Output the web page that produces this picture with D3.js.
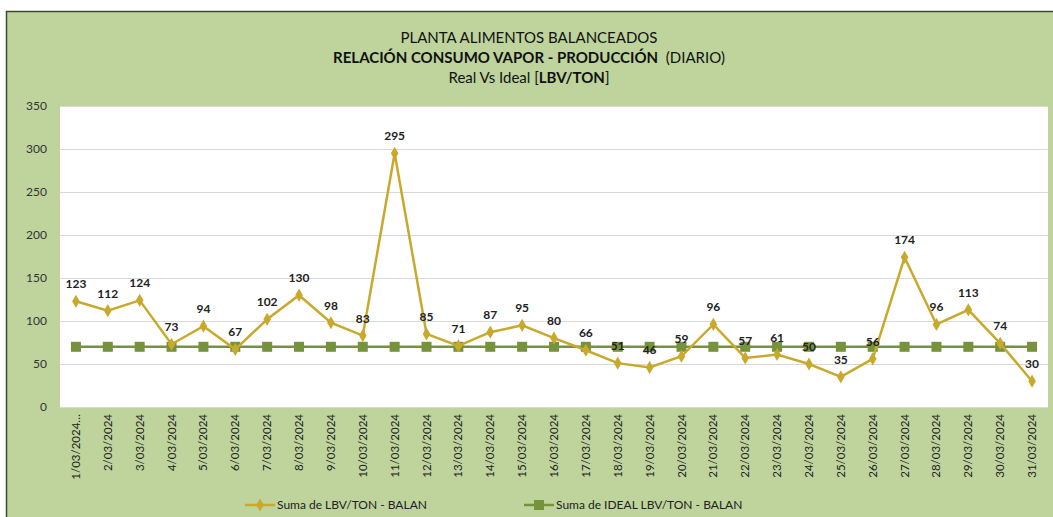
<!DOCTYPE html>
<html><head><meta charset="utf-8">
<script src="https://cdn.jsdelivr.net/npm/d3@7"></script>
<style>
html,body{margin:0;padding:0;background:#fff;}
svg{display:block;font-family:Lato,"Open Sans",sans-serif;}
</style></head>
<body>
<svg id="chart" width="1053" height="517"></svg>
<script>
const dates = ["1/03/2024","2/03/2024","3/03/2024","4/03/2024","5/03/2024","6/03/2024","7/03/2024","8/03/2024","9/03/2024","10/03/2024","11/03/2024","12/03/2024","13/03/2024","14/03/2024","15/03/2024","16/03/2024","17/03/2024","18/03/2024","19/03/2024","20/03/2024","21/03/2024","22/03/2024","23/03/2024","24/03/2024","25/03/2024","26/03/2024","27/03/2024","28/03/2024","29/03/2024","30/03/2024","31/03/2024"];
const real = [123,112,124,73,94,67,102,130,98,83,295,85,71,87,95,80,66,51,46,59,96,57,61,50,35,56,174,96,113,74,30];
const ideal = [70,70,70,70,70,70,70,70,70,70,70,70,70,70,70,70,70,70,70,70,70,70,70,70,70,70,70,70,70,70,70];
const yTicks = [0,50,100,150,200,250,300,350];
const seriesNames = ["Suma de LBV/TON - BALAN","Suma de IDEAL LBV/TON - BALAN"];

const svg = d3.select("#chart");
const W = 1053, H = 517;
const bg = "#BED49C", gold = "#C9A92C", green = "#76923C";

svg.append("rect").attr("x",6).attr("y",11).attr("width",W-6).attr("height",H-11).attr("fill",bg);
svg.append("line").attr("x1",6).attr("x2",W).attr("y1",11.5).attr("y2",11.5).attr("stroke","#3d4a2c").attr("stroke-width",1.5);
svg.append("line").attr("x1",6.5).attr("x2",6.5).attr("y1",11).attr("y2",H).attr("stroke","#3d4a2c").attr("stroke-width",1.5);

const pl = 60, pr = 1048, pt = 106, pb = 407;
svg.append("rect").attr("x",pl).attr("y",pt).attr("width",pr-pl).attr("height",pb-pt).attr("fill","#fff");

const x = d3.scaleBand().domain(dates).range([pl,pr]);
const y = d3.scaleLinear().domain([0,350]).range([pb,pt]);
const cx = d => x(d) + x.bandwidth()/2;

// gridlines
svg.append("g").selectAll("line").data(yTicks.filter(t=>t>0)).join("line")
  .attr("x1",pl).attr("x2",pr).attr("y1",d=>Math.round(y(d))+0.5).attr("y2",d=>Math.round(y(d))+0.5)
  .attr("stroke","#d9d9d9").attr("stroke-width",1);
svg.append("line").attr("x1",pl).attr("x2",pr).attr("y1",pb+0.5).attr("y2",pb+0.5).attr("stroke","#d9d9d9");

// y axis
const ya = svg.append("g").attr("transform",`translate(${pl-13},0)`)
  .call(d3.axisLeft(y).tickValues(yTicks).tickSize(0).tickPadding(0));
ya.select(".domain").remove();
ya.selectAll("text").attr("font-size",12).attr("fill","#333").attr("font-family","Lato,'Open Sans',sans-serif");

// x axis
const xa = svg.append("g").attr("transform",`translate(0,${pb})`)
  .call(d3.axisBottom(x).tickSize(0).tickFormat((d,i)=> i===0 ? "1/03/2024…" : d));
xa.select(".domain").remove();
xa.selectAll("text").attr("font-size",11.5).attr("fill","#222")
  .attr("font-family","Lato,'Open Sans',sans-serif")
  .attr("text-anchor","end").attr("transform","rotate(-90)")
  .attr("x",-7).attr("y",0).attr("dy","0.35em");

// ideal line
svg.append("path").datum(ideal).attr("fill","none").attr("stroke",green).attr("stroke-width",2.5)
  .attr("d",d3.line().x((d,i)=>cx(dates[i])).y(d=>y(d)));
svg.append("g").selectAll("rect").data(ideal).join("rect")
  .attr("x",(d,i)=>cx(dates[i])-5).attr("y",d=>y(d)-5).attr("width",10).attr("height",10).attr("fill",green);

// real line
svg.append("path").datum(real).attr("fill","none").attr("stroke",gold).attr("stroke-width",2.5)
  .attr("d",d3.line().x((d,i)=>cx(dates[i])).y(d=>y(d)));
const diamond = d3.symbol().type(d3.symbolDiamond).size(50);
svg.append("g").selectAll("path").data(real).join("path")
  .attr("d",diamond).attr("transform",(d,i)=>`translate(${cx(dates[i])},${y(d)})`).attr("fill",gold);

// data labels
svg.append("g").selectAll("text").data(real).join("text")
  .attr("x",(d,i)=>cx(dates[i])).attr("y",d=>y(d)-13)
  .attr("text-anchor","middle").attr("font-size",12).attr("font-weight","bold").attr("fill","#222")
  .text(d=>d);

// titles
const t = svg.append("g").attr("text-anchor","middle").attr("fill","#111");
t.append("text").attr("x",529).attr("y",43).attr("font-size",15).text("PLANTA ALIMENTOS BALANCEADOS");
const t2 = t.append("text").attr("x",529).attr("y",63).attr("font-size",15);
t2.append("tspan").attr("font-weight","bold").text("RELACIÓN CONSUMO VAPOR - PRODUCCIÓN");
t2.append("tspan").text("\u00a0\u00a0(DIARIO)");
const t3 = t.append("text").attr("x",529).attr("y",83).attr("font-size",15);
t3.append("tspan").text("Real Vs Ideal [");
t3.append("tspan").attr("font-weight","bold").text("LBV/TON");
t3.append("tspan").text("]");

// legend
const lg = svg.append("g").attr("font-size",12).attr("fill","#222");
const legX = [245,524];
seriesNames.forEach((name,i)=>{
  const g = lg.append("g").attr("transform",`translate(${legX[i]},505)`);
  g.append("line").attr("x1",0).attr("x2",30).attr("y1",0).attr("y2",0)
    .attr("stroke",i===0?gold:green).attr("stroke-width",2.5);
  if(i===0) g.append("path").attr("d",diamond).attr("transform","translate(15,0)").attr("fill",gold);
  else g.append("rect").attr("x",10).attr("y",-5).attr("width",10).attr("height",10).attr("fill",green);
  g.append("text").attr("x",32).attr("y",0).attr("dy","0.35em").attr("fill","#222").text(name);
});
</script>
</body></html>
